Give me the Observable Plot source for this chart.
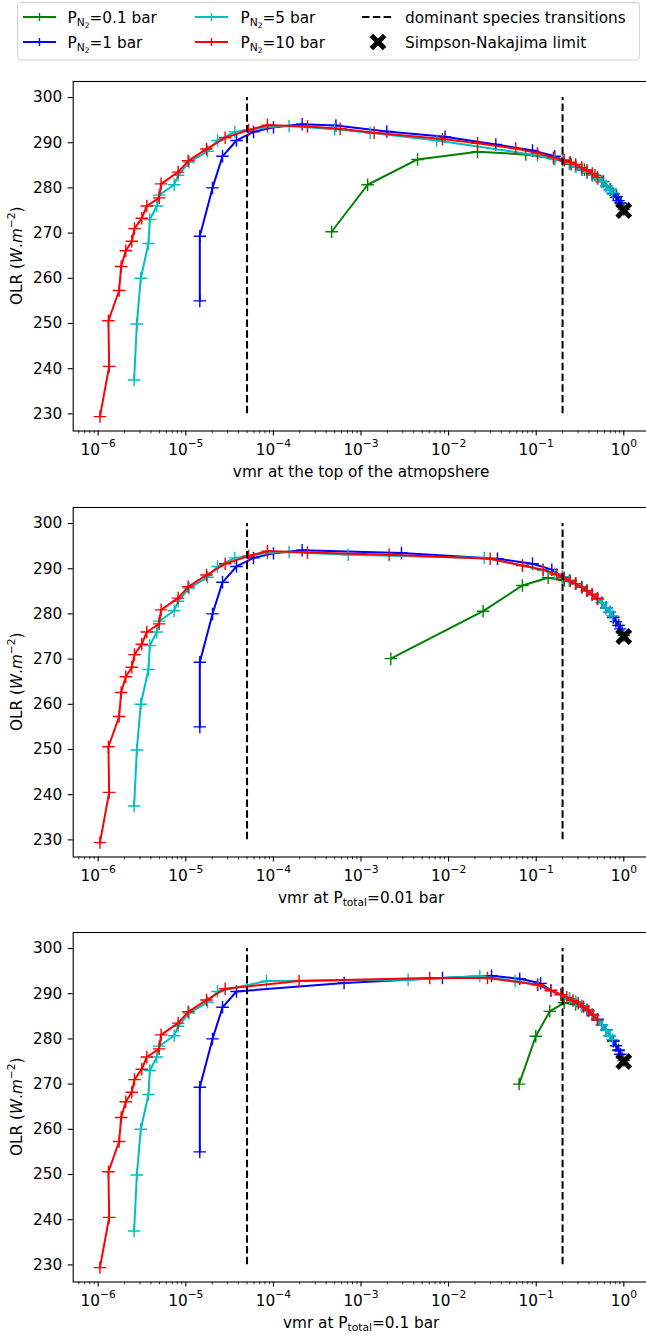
<!DOCTYPE html>
<html>
<head>
<meta charset="utf-8">
<script src="https://cdn.jsdelivr.net/npm/d3@7"></script>
<script src="https://cdn.jsdelivr.net/npm/@observablehq/plot@0.6"></script>
<style>
  html, body { margin: 0; padding: 0; background: #ffffff; overflow: hidden; }
  #wrap { position: relative; width: 646px; height: 1336px; overflow: hidden; background: #fff; font-family: "DejaVu Sans", sans-serif; }
  .panel { position: absolute; left: 0; width: 652px; }
  .panel svg { max-width: none !important; display: block; }
  #legend { position: absolute; left: 0; top: 0; }
</style>
</head>
<body>
<div id="wrap"></div>
<script>
// ---------------- data ----------------
const seriesLabels = ["0.1", "1", "5", "10"];
const seriesColors = ["#008000", "#0000ff", "#00bfbf", "#ff0000"];
const transitions = [5e-5, 0.2];
const transitionY = [230, 300];
const limitX = [1];
const limitY = [275];
const yTicks = [230, 240, 250, 260, 270, 280, 290, 300];
const xMajorTicks = [1e-6, 1e-5, 1e-4, 1e-3, 1e-2, 1e-1, 1];

// low-vmr branches (identical in all three panels)
const redLowX = [1.047e-6, 1.334e-6, 1.309e-6, 1.734e-6, 1.828e-6, 2.065e-6, 2.421e-6, 2.594e-6, 3.148e-6, 3.589e-6, 4.966e-6, 5.224e-6, 8.166e-6, 1.064e-5, 1.722e-5, 2.812e-5];
const redLowY = [229.4, 240.5, 250.6, 257.3, 262.6, 266.1, 268.2, 271.0, 273.3, 276.0, 277.8, 280.9, 283.5, 286.0, 288.6, 291.1];
const cyanLowX = [2.570e-6, 2.761e-6, 3.062e-6, 3.750e-6, 3.882e-6, 4.667e-6, 4.966e-6, 7.362e-6, 8.166e-6, 1.091e-5, 1.770e-5, 2.301e-5];
const cyanLowY = [237.5, 249.9, 260.0, 267.7, 273.0, 276.0, 278.4, 280.7, 282.8, 285.7, 288.1, 290.5];
const blueLowX = [1.445e-5, 1.445e-5, 2.018e-5, 2.624e-5, 3.793e-5];
const blueLowY = [255.0, 269.3, 280.0, 287.0, 290.5];

// panel 1: vmr at the top of the atmosphere
const p1GreenX = [4.62e-4, 1.19e-3, 4.42e-3, 0.0214, 0.076, 0.158, 0.251, 0.355, 0.468, 0.589, 0.708, 0.832, 0.933, 1.0];
const p1GreenY = [270.3, 280.7, 286.3, 288.0, 287.4, 286.5, 285.2, 284.0, 282.8, 281.4, 279.7, 278.1, 276.5, 275.2];
const p1BlueX = [5.929e-5, 1.002e-4, 2.128e-4, 5.176e-4, 1.972e-3, 9.12e-3, 0.0346, 0.0908, 0.1629, 0.1995, 0.2399, 0.2818, 0.3311, 0.3802, 0.4365, 0.5012, 0.5623, 0.631, 0.6918, 0.7586, 0.8128, 0.871, 0.912, 0.955];
const p1BlueY = [292.4, 293.4, 294.1, 293.8, 292.5, 291.3, 289.6, 288.3, 287.0, 286.2, 285.4, 284.7, 284.0, 283.4, 282.8, 282.1, 281.4, 280.4, 279.6, 278.7, 277.9, 277.2, 276.7, 275.9];
const p1CyanX = [3.631e-5, 8.551e-5, 1.510e-4, 5.012e-4, 1.271e-3, 7.328e-3, 0.1035, 0.1629, 0.1995, 0.2399, 0.2818, 0.3311, 0.3802, 0.4365, 0.5012, 0.5623, 0.631, 0.6918, 0.7413];
const p1CyanY = [292.4, 293.5, 293.7, 293.0, 292.2, 290.5, 287.2, 286.3, 286.2, 285.4, 284.7, 284.0, 283.4, 282.8, 282.1, 281.4, 280.4, 279.6, 278.9];
const p1RedX = [5.2e-5, 8.551e-5, 2.449e-4, 5.781e-4, 1.413e-3, 8.51e-3, 0.0214, 0.0585, 0.1035, 0.1574, 0.209, 0.245, 0.282, 0.331, 0.380, 0.437, 0.501];
const p1RedY = [292.8, 293.9, 293.6, 293.1, 292.2, 290.8, 289.9, 288.7, 287.7, 286.7, 286.1, 285.7, 285.2, 284.5, 283.9, 283.2, 282.4];

// panel 2: vmr at P_total = 0.01 bar
const p2GreenX = [2.188e-3, 0.02477, 0.06966, 0.1368, 0.2089, 0.2818, 0.3802, 0.5012, 0.631, 0.7586, 0.871, 1.0];
const p2GreenY = [270.1, 280.6, 286.3, 288.0, 287.4, 286.7, 285.2, 283.3, 281.4, 279.3, 277.5, 275.2];
const p2BlueX = [5.929e-5, 1.002e-4, 2.128e-4, 2.897e-3, 0.03614, 0.0908, 0.1507, 0.1995, 0.2399, 0.2818, 0.3311, 0.3802, 0.4365, 0.5012, 0.5623, 0.631, 0.6918, 0.7586, 0.8128, 0.871, 0.912, 0.955];
const p2BlueY = [292.4, 293.4, 294.1, 293.5, 292.2, 291.1, 289.8, 288.2, 287.4, 286.7, 285.9, 285.1, 284.3, 283.4, 282.5, 281.3, 280.4, 279.2, 278.3, 277.4, 276.7, 275.9];
const p2CyanX = [3.631e-5, 8.551e-5, 1.510e-4, 7.13e-4, 0.02547, 0.06966, 0.1202, 0.1622, 0.1995, 0.2399, 0.2818, 0.3311, 0.3802, 0.4365, 0.5012, 0.5623, 0.631, 0.6918, 0.7413];
const p2CyanY = [292.4, 293.5, 293.7, 293.1, 292.4, 290.7, 289.6, 288.9, 288.2, 287.4, 286.7, 285.9, 285.1, 284.3, 283.4, 282.5, 281.3, 280.4, 279.6];
const p2RedX = [5.2e-5, 8.551e-5, 2.449e-4, 2.094e-3, 0.02979, 0.06966, 0.1199, 0.1718, 0.2089, 0.2455, 0.2818, 0.3311, 0.3802, 0.4365, 0.5012];
const p2RedY = [292.8, 293.9, 293.6, 293.1, 292.2, 290.7, 289.8, 288.7, 288.0, 287.3, 286.7, 285.9, 285.1, 284.3, 283.4];

// panel 3: vmr at P_total = 0.1 bar
const p3GreenX = [0.0638, 0.0989, 0.1429, 0.2084, 0.2818, 0.3802, 0.5012, 0.631, 0.7586, 0.871, 1.0];
const p3GreenY = [270.0, 280.6, 286.1, 288.0, 287.6, 286.4, 284.2, 282.0, 279.6, 277.6, 275.2];
const p3BlueX = [6.412e-4, 8.511e-3, 0.0309, 0.0649, 0.1122, 0.1479, 0.1905, 0.2399, 0.2818, 0.3311, 0.3802, 0.4365, 0.5012, 0.5623, 0.631, 0.6918, 0.7586, 0.8128, 0.871, 0.912, 0.955];
const p3BlueY = [292.4, 293.5, 294.0, 293.3, 292.3, 290.7, 289.8, 288.9, 288.2, 287.3, 286.4, 285.4, 284.3, 283.1, 281.9, 280.7, 279.5, 278.5, 277.4, 276.6, 275.8];
const p3CyanX = [8.337e-5, 3.451e-3, 0.0227, 0.0574, 0.1047, 0.1479, 0.1905, 0.2399, 0.2818, 0.3311, 0.3802, 0.4365, 0.5012, 0.5623, 0.631, 0.6918, 0.7413];
const p3CyanY = [292.8, 293.1, 293.9, 292.8, 292.0, 290.7, 289.8, 288.9, 288.2, 287.3, 286.4, 285.4, 284.3, 283.1, 281.9, 280.7, 279.9];
const p3RedX = [1.963e-4, 6.095e-3, 0.0278, 0.1035, 0.1469, 0.191, 0.2239, 0.263, 0.302, 0.3467, 0.3981, 0.4467, 0.5012];
const p3RedY = [292.8, 293.5, 293.5, 292.0, 290.7, 289.8, 289.2, 288.5, 287.9, 287.1, 286.2, 285.3, 284.3];

const xLabels = [
  [["vmr at the top of the atmopshere", 0]],
  [["vmr at P", 0], ["total", 1], ["=0.01 bar", 0]],
  [["vmr at P", 0], ["total", 1], ["=0.1 bar", 0]]
];

// ---------------- helpers ----------------
const FS = 15.3;
const FSS = 10.7;
const FONT = "DejaVu Sans";
const pts = (xs, ys) => xs.map((x, i) => ({x, y: ys[i]}));

const panelsData = [
  [pts(p1GreenX, p1GreenY), pts(blueLowX.concat(p1BlueX), blueLowY.concat(p1BlueY)), pts(cyanLowX.concat(p1CyanX), cyanLowY.concat(p1CyanY)), pts(redLowX.concat(p1RedX), redLowY.concat(p1RedY))],
  [pts(p2GreenX, p2GreenY), pts(blueLowX.concat(p2BlueX), blueLowY.concat(p2BlueY)), pts(cyanLowX.concat(p2CyanX), cyanLowY.concat(p2CyanY)), pts(redLowX.concat(p2RedX), redLowY.concat(p2RedY))],
  [pts(p3GreenX, p3GreenY), pts(blueLowX.concat(p3BlueX), blueLowY.concat(p3BlueY)), pts(cyanLowX.concat(p3CyanX), cyanLowY.concat(p3CyanY)), pts(redLowX.concat(p3RedX), redLowY.concat(p3RedY))]
];

const xMinorTicks = [];
for (let k = -7; k <= 0; k++) for (let m = 2; m <= 9; m++) {
  const v = m * Math.pow(10, k);
  if (v > Math.pow(10, -6.2854) && v < Math.pow(10, 0.3002)) xMinorTicks.push(v);
}

const wrap = document.getElementById("wrap");
const MT = 10, PH = 349.5, MB = 60.5;
const panelTops = [71.3, 496.7, 922.1];

panelsData.forEach((series, pi) => {
  const marks = [
    Plot.axisY({ticks: yTicks, tickSize: 5, tickPadding: 6, label: null, tickFormat: d => String(d), strokeWidth: 1.1}),
    Plot.axisX({ticks: xMinorTicks, tickSize: 2.8, label: null, tickFormat: () => "", strokeWidth: 0.8}),
    Plot.axisX({ticks: xMajorTicks, tickSize: 5, tickPadding: 8, label: null, strokeWidth: 1.1,
      tickFormat: d => { const e = Math.round(Math.log10(d)); return e < 0 ? "\u2212" + (-e) : String(e); }})
  ];
  series.forEach((data, si) => {
    marks.push(Plot.line(data, {x: "x", y: "y", stroke: seriesColors[si], strokeWidth: 2}));
    marks.push(Plot.dot(data, {x: "x", y: "y", symbol: "plus", r: 4.1, stroke: seriesColors[si], strokeWidth: 1.4}));
  });
  marks.push(Plot.ruleX(transitions, {x: d => d, y1: transitionY[0], y2: transitionY[1], stroke: "black", strokeWidth: 2, strokeDasharray: "7.5,3.3"}));
  marks.push(Plot.dot(limitX.map((x, i) => ({x, y: limitY[i]})), {x: "x", y: "y", symbol: "times", r: 6.1, stroke: "black", strokeWidth: 5}));
  marks.push(Plot.frame({stroke: "black", strokeWidth: 1.1}));

  const svg = Plot.plot({
    width: 652, height: MT + PH + MB,
    marginLeft: 72.7, marginRight: 2.4, marginTop: MT, marginBottom: MB,
    style: {fontFamily: FONT, fontSize: FS + "px", color: "black", background: "transparent", overflow: "visible"},
    x: {type: "log", domain: [Math.pow(10, -6.2854), Math.pow(10, 0.3002)]},
    y: {domain: [226.21, 303.55]},
    marks
  });
  svg.style.maxWidth = "none";

  // x tick labels as 10^n with raised exponent
  svg.querySelectorAll('g[aria-label="x-axis tick label"] text').forEach(t => {
    const e = t.textContent;
    if (!e) return;
    t.textContent = "";
    const s = d3.select(t);
    s.append("tspan").text("10");
    s.append("tspan").attr("dy", "-7.4").attr("font-size", FSS + "px").text(e);
  });

  const S = d3.select(svg);
  // y axis label
  const yl = S.append("text")
    .attr("transform", `translate(22,${MT + PH / 2}) rotate(-90)`)
    .attr("text-anchor", "middle").attr("font-family", FONT).attr("font-size", FS + "px").attr("fill", "black");
  yl.append("tspan").text("OLR (");
  yl.append("tspan").attr("font-style", "italic").text("W");
  yl.append("tspan").text(".");
  yl.append("tspan").attr("font-style", "italic").text("m");
  yl.append("tspan").attr("dy", "-6.6").attr("font-size", FSS + "px").text("\u22122");
  yl.append("tspan").attr("dy", "6.6").text(")");

  // x axis label
  const xl = S.append("text")
    .attr("x", (72.7 + 649.6) / 2).attr("y", MT + PH + 46)
    .attr("text-anchor", "middle").attr("font-family", FONT).attr("font-size", FS + "px").attr("fill", "black");
  let shift = 0;
  xLabels[pi].forEach(([txt, sub]) => {
    const ts = xl.append("tspan").text(txt);
    if (sub) { ts.attr("dy", 3.3).attr("font-size", FSS + "px"); shift = 3.3; }
    else if (shift) { ts.attr("dy", -shift); shift = 0; }
  });

  const div = document.createElement("div");
  div.className = "panel";
  div.style.top = panelTops[pi] + "px";
  div.appendChild(svg);
  wrap.appendChild(div);
});

// ---------------- legend ----------------
const lg = d3.select(wrap).append("svg").attr("id", "legend").attr("width", 646).attr("height", 66)
  .style("font-family", FONT);
lg.append("rect").attr("x", 17.5).attr("y", 2.5).attr("width", 622).attr("height", 57.5)
  .attr("rx", 3.5).attr("fill", "white").attr("stroke", "#d3d3d3").attr("stroke-width", 1);

const rowsY = [17, 42];
const colHandle = [[23, 56], [195, 228]];
const colText = [67.5, 240.5];
seriesLabels.forEach((lab, i) => {
  const col = Math.floor(i / 2), row = i % 2;
  const y = rowsY[row];
  const [x1, x2] = colHandle[col];
  lg.append("line").attr("x1", x1).attr("x2", x2).attr("y1", y).attr("y2", y)
    .attr("stroke", seriesColors[i]).attr("stroke-width", 2);
  const cx = (x1 + x2) / 2;
  lg.append("path").attr("d", `M${cx - 4},${y}H${cx + 4}M${cx},${y - 4}V${y + 4}`)
    .attr("stroke", seriesColors[i]).attr("stroke-width", 1.4).attr("fill", "none");
  const t = lg.append("text").attr("x", colText[col]).attr("y", y + 5.6)
    .attr("font-size", FS + "px").attr("fill", "black");
  t.append("tspan").text("P");
  t.append("tspan").attr("dy", 3.3).attr("font-size", FSS + "px").text("N");
  t.append("tspan").attr("dy", 1.8).attr("font-size", "7.5px").text("2");
  t.append("tspan").attr("dy", -5.1).text("=" + lab + " bar");
});
// transitions
lg.append("line").attr("x1", 362).attr("x2", 394).attr("y1", rowsY[0]).attr("y2", rowsY[0])
  .attr("stroke", "black").attr("stroke-width", 2).attr("stroke-dasharray", "7.5,3.3");
lg.append("text").attr("x", 405).attr("y", rowsY[0] + 5.6).attr("font-size", FS + "px").attr("fill", "black")
  .text("dominant species transitions");
// limit marker
const mx = 378, my = rowsY[1];
lg.append("path").attr("d", `M${mx - 6.6},${my - 6.6}L${mx + 6.6},${my + 6.6}M${mx - 6.6},${my + 6.6}L${mx + 6.6},${my - 6.6}`)
  .attr("stroke", "black").attr("stroke-width", 5).attr("fill", "none");
lg.append("text").attr("x", 405).attr("y", rowsY[1] + 5.6).attr("font-size", FS + "px").attr("fill", "black")
  .text("Simpson-Nakajima limit");
</script>
</body>
</html>
